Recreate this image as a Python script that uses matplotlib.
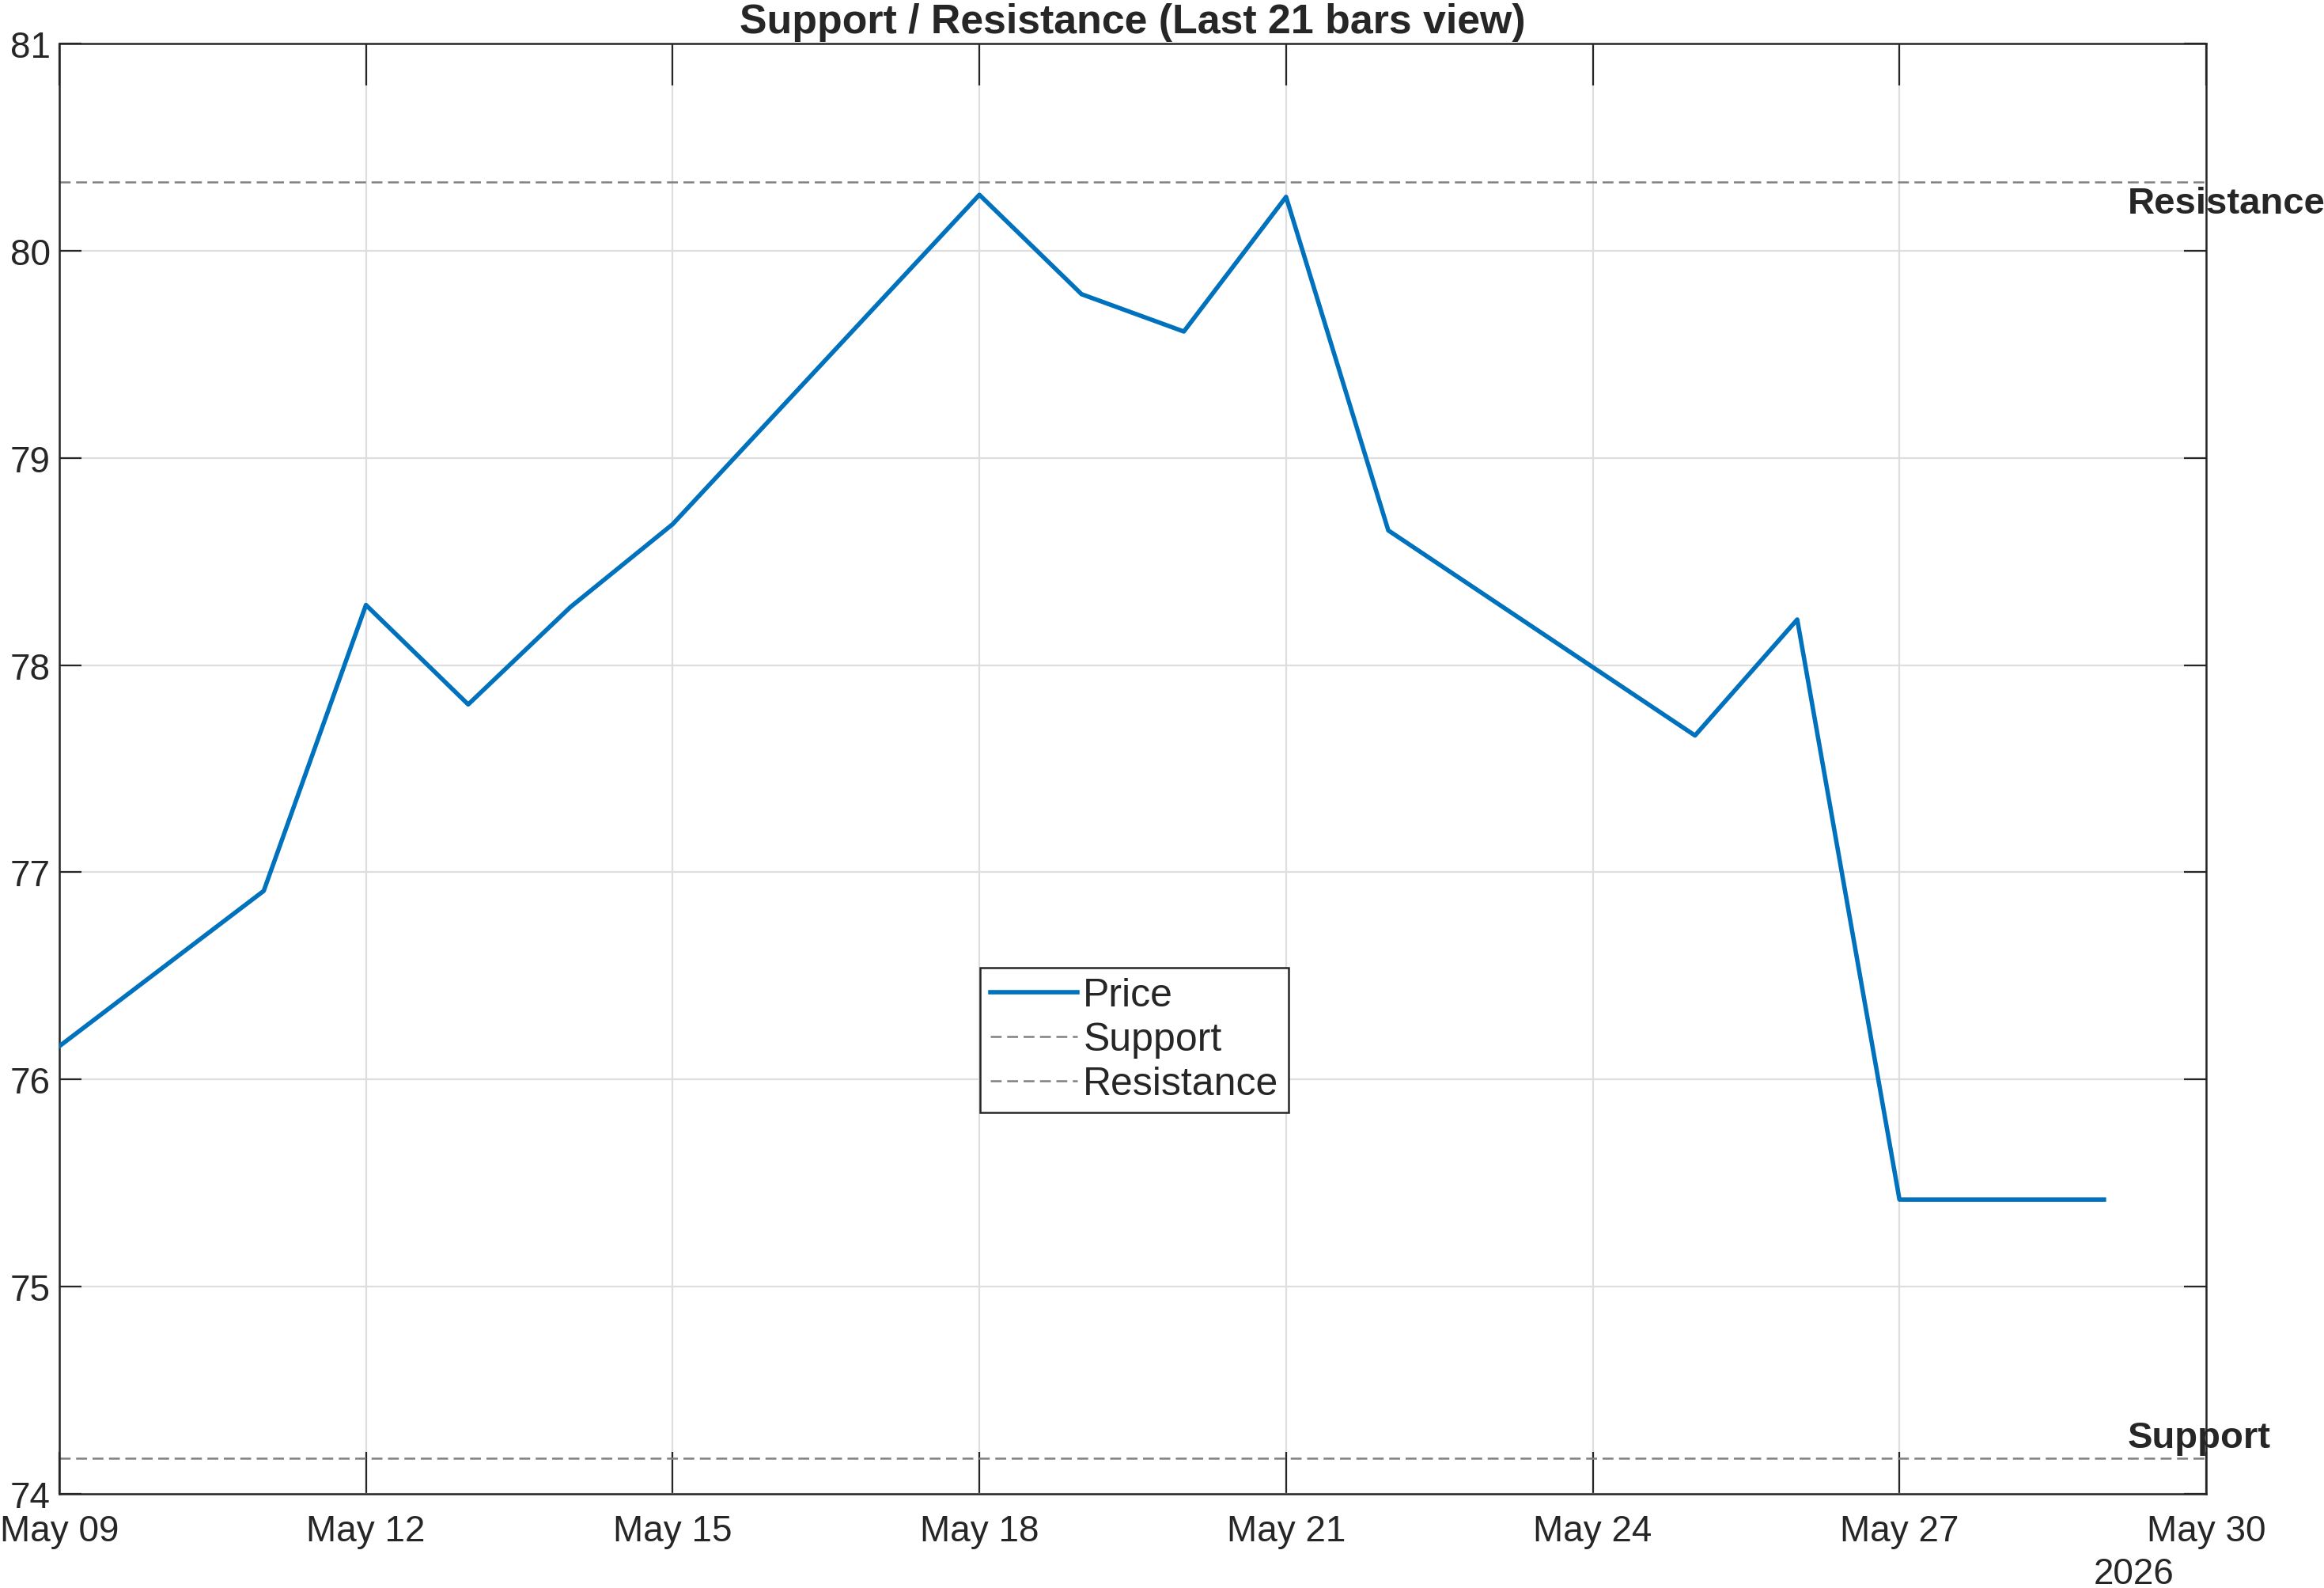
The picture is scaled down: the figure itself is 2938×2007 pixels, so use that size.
import datetime as dt
import matplotlib
matplotlib.use("Agg")
import matplotlib.pyplot as plt
import matplotlib.dates as mdates

# ---------------- Dados ----------------
dates = ["2026-05-09", "2026-05-11", "2026-05-12", "2026-05-13", "2026-05-14",
         "2026-05-15", "2026-05-18", "2026-05-19", "2026-05-20", "2026-05-21",
         "2026-05-22", "2026-05-25", "2026-05-26", "2026-05-27", "2026-05-28",
         "2026-05-29"]
price = [76.16, 76.91, 78.29, 77.81, 78.28,
         78.68, 80.27, 79.79, 79.61, 80.26,
         78.65, 77.66, 78.22, 75.42, 75.42,
         75.42]
support = 74.17
resistance = 80.33
xlim_dates = ["2026-05-09", "2026-05-30"]
tick_dates = ["2026-05-09", "2026-05-12", "2026-05-15", "2026-05-18",
              "2026-05-21", "2026-05-24", "2026-05-27", "2026-05-30"]
yticks = [74, 75, 76, 77, 78, 79, 80, 81]

BLUE = "#0072BD"
GREY = "#808080"
DARK = "#262626"

plt.rcParams["font.family"] = ["Liberation Sans", "DejaVu Sans"]

def to_dt(s):
    return dt.datetime.strptime(s, "%Y-%m-%d")

x = [to_dt(d) for d in dates]

fig = plt.figure(figsize=(14.69, 10.04), dpi=200)
ax = fig.add_axes([0.0255, 0.0593, 0.9238, 0.9128])

ax.plot(x, price, color=BLUE, lw=2.0, label="Price", zorder=3)
ax.axhline(support, color=GREY, lw=0.9, ls=(0, (5.5, 2.8)), label="Support")
ax.axhline(resistance, color=GREY, lw=0.9, ls=(0, (5.5, 2.8)), label="Resistance")

ax.set_xlim(to_dt(xlim_dates[0]), to_dt(xlim_dates[1]))
ax.set_ylim(74, 81)
ax.set_xticks([to_dt(d) for d in tick_dates])
ax.xaxis.set_major_formatter(mdates.DateFormatter("%b %d"))
ax.set_yticks(yticks)

ax.grid(True, color="#dedede", lw=0.8)
ax.set_axisbelow(True)
for sp in ax.spines.values():
    sp.set_color(DARK)
    sp.set_linewidth(0.9)
ax.tick_params(axis="both", direction="in", top=True, right=True,
               colors=DARK, labelsize=16.5, width=0.8)
ax.tick_params(axis="x", length=19, pad=9)
ax.tick_params(axis="y", length=10, pad=4)

# etiquetas das linhas
xe = mdates.date2num(x[-1]) + 0.23
ax.text(xe, resistance - 0.1, "Resistance", fontsize=17, fontweight="bold",
        color=DARK, va="center", ha="left", clip_on=False)
ax.text(xe, support + 0.1, "Support", fontsize=17, fontweight="bold",
        color=DARK, va="center", ha="left", clip_on=False)

ax.text(0.9665, -0.055, "2026", transform=ax.transAxes, fontsize=16.5,
        color=DARK, ha="center", va="center")

ax.set_title("Support / Resistance (Last 21 bars view)", fontsize=18.7,
             fontweight="bold", color=DARK, pad=5)

leg = ax.legend(loc="lower left", bbox_to_anchor=(0.429, 0.263), fontsize=18,
                frameon=True, fancybox=False, framealpha=1, edgecolor=DARK,
                handlelength=2.2, handletextpad=0.15, borderpad=0.25,
                labelspacing=0.2, borderaxespad=0)
leg.get_frame().set_linewidth(0.9)
for t in leg.get_texts():
    t.set_color(DARK)

fig.savefig("out.png", dpi=200)
